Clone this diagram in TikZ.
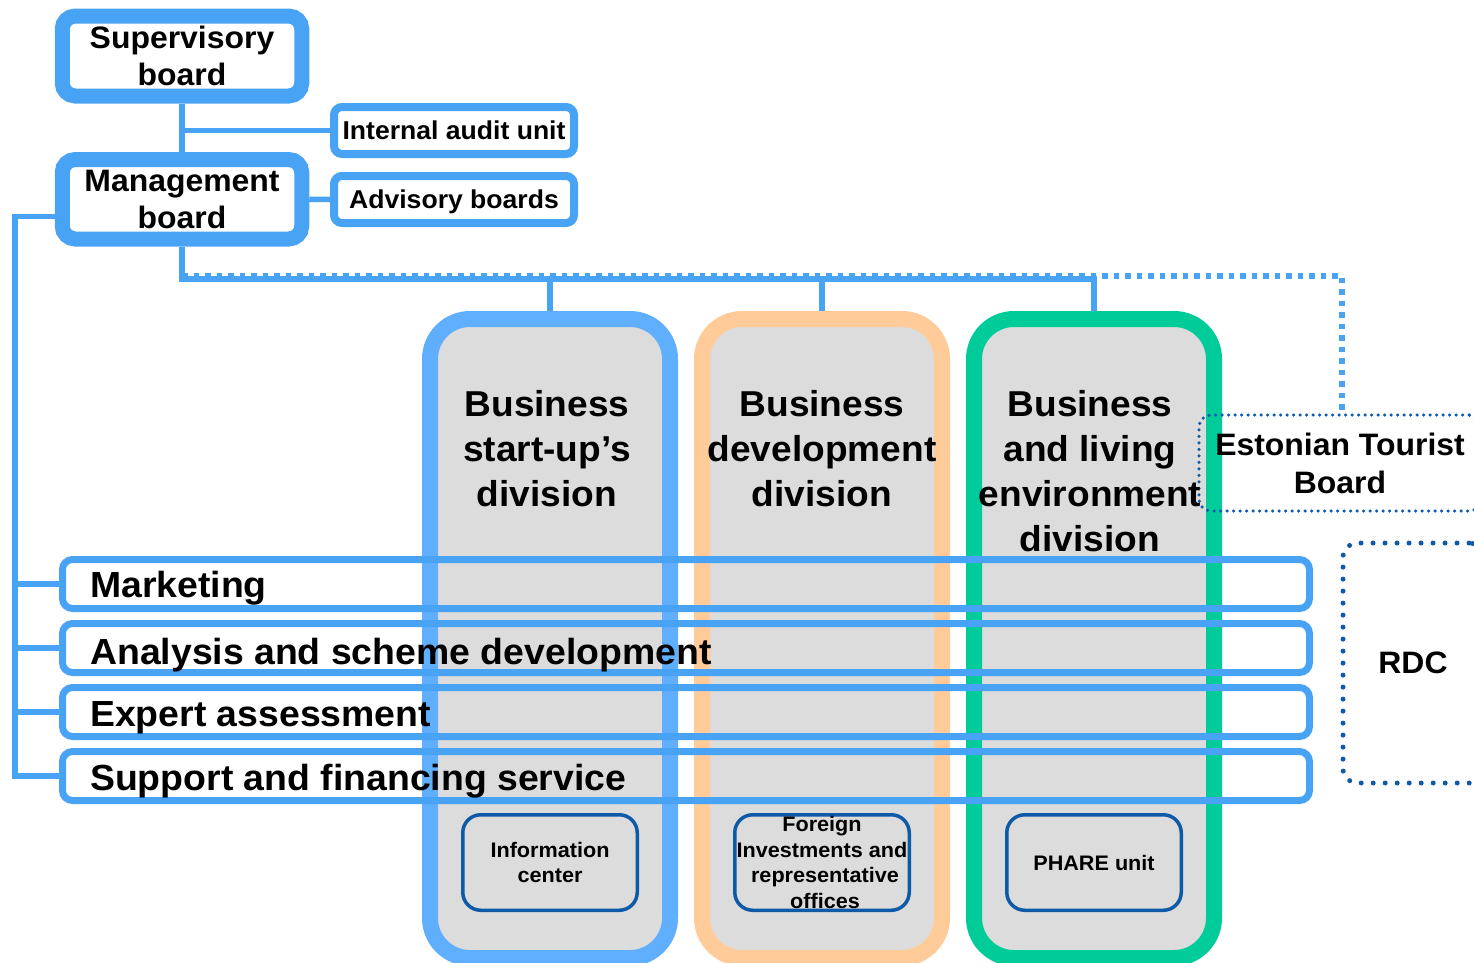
\documentclass[tikz,border=0pt]{standalone}
\usepackage{fontspec}
\setmainfont{Liberation Sans}[FakeStretch=1.03]
\usetikzlibrary{calc}
\definecolor{lblue}{RGB}{73,163,245}
\definecolor{cblue}{RGB}{96,174,254}
\definecolor{corange}{RGB}{255,204,153}
\definecolor{cgreen}{RGB}{0,204,153}
\definecolor{cgray}{RGB}{220,220,220}
\definecolor{dblue}{RGB}{14,90,168}
\pgfdeclarelayer{bg}
\pgfsetlayers{bg,main}
\begin{document}
\begin{tikzpicture}[x=1pt,y=-1pt,
  conn/.style={draw=lblue, line width=5.5pt},
  lightdots/.style={draw=lblue, line width=5.5pt, dash pattern=on 5.5pt off 6pt},
  board/.style={draw=lblue, line width=15pt, rounded corners=13pt, fill=white, inner sep=0pt,
    minimum width=239.5pt, minimum height=80pt, align=center, text depth=0pt,
    font=\bfseries\fontsize{31}{37.5}\selectfont},
  unitbox/.style={draw=lblue, line width=8pt, rounded corners=8pt, fill=white, inner sep=0pt,
    minimum width=240pt, minimum height=47pt, text depth=0pt,
    font=\bfseries\fontsize{25.8}{32}\selectfont},
  column/.style={line width=16pt, rounded corners=40pt, fill=cgray, inner sep=0pt,
    minimum width=240pt, minimum height=639pt},
  coltitle/.style={anchor=north, inner sep=0pt, align=center,
    font=\bfseries\fontsize{36}{45}\selectfont},
  band/.style={draw=lblue, line width=7pt, rounded corners=10pt, inner sep=0pt,
    minimum width=1247pt, minimum height=49pt},
  bandtext/.style={anchor=base west, inner sep=0pt, font=\bfseries\fontsize{36.3}{45}\selectfont},
  smallbox/.style={draw=dblue, line width=3.5pt, rounded corners=18pt, fill=cgray, inner sep=0pt,
    minimum width=174.5pt, minimum height=95.5pt, align=center, text depth=0pt,
    font=\bfseries\fontsize{21}{25.5}\selectfont},
  dotbox/.style={draw=dblue, line cap=round, inner sep=0pt, align=center,
    font=\bfseries\fontsize{31}{38}\selectfont}
]
\useasboundingbox (0,0) rectangle (1474,962);

% top boards
\node[board] (sb) at (182,56) {Supervisory\\board};
\node[board, minimum height=79.5pt] (mb) at (182,199.25) {Management\\board};
\node[unitbox] (iau) at (454,130.5) {Internal audit unit};
\node[unitbox] (ab) at (454,199.5) {Advisory boards};

% division columns
\node[column, draw=cblue] (c1) at (550,638.5) {};
\node[column, draw=corange] (c2) at (822,638.5) {};
\node[column, draw=cgreen] (c3) at (1094,638.5) {};

% Estonian Tourist Board and RDC
\node[dotbox, line width=3.5pt, dash pattern=on 0pt off 6.5pt, rounded corners=12pt,
  minimum width=282pt, minimum height=96pt, text depth=0pt] (etb) at (1340,463) {Estonian Tourist\\Board};
\node[dotbox, line width=5pt, dash pattern=on 0pt off 12pt, rounded corners=14pt,
  minimum width=140pt, minimum height=240pt] (rdc) at (1413,663) {RDC};

% functional bands
\node[band] (b1) at (686,584) {};
\node[band] (b2) at (686,648) {};
\node[band] (b3) at (686,712) {};
\node[band] (b4) at (686,776) {};

% small units
\node[smallbox] (ic) at (550,862.5) {Information\\center};
\node[smallbox] (fi) at (822,862.5) {Foreign\\Investments and\\\hspace*{6pt}representative\\\hspace*{6pt}offices};
\node[smallbox] (ph) at (1094,862.5) {PHARE unit};

% titles
\node[coltitle] (t1) at (547,390) {Business\\start-up’s\\division};
\node[coltitle] (t2) at (822,390) {Business\\development\\division};
\node[coltitle] (t3) at (1090,390) {Business\\and living\\environment\\division};

\node[bandtext] (bt1) at (90,597) {Marketing};
\node[bandtext] (bt2) at (90,664) {Analysis and scheme development};
\node[bandtext] (bt3) at (90,726) {Expert assessment};
\node[bandtext] (bt4) at (90,790) {Support and financing service};

% connectors
\coordinate (j) at (183,279);
\coordinate (dj) at (1342,276);
\coordinate (lx) at (15,0);
\begin{pgfonlayer}{bg}
\draw[conn] (sb.south) -- (mb.north);
\draw[conn] (sb.south |- iau.west) -- (iau.west);
\draw[conn] (mb.east) -- (ab.west);
\draw[lightdots] (mb.south |- dj) -- (dj) -- (dj |- etb.north);
\draw[conn] (mb.south) -- (mb.south |- j) -- (c3.north |- j) -- (c3.north);
\draw[conn] (c1.north |- j) -- (c1.north);
\draw[conn] (c2.north |- j) -- (c2.north);
\draw[conn] ($(mb.west)+(0,17)$) -- ($(lx |- mb.west)+(0,17)$) |- (b4.west);
\draw[conn] (lx |- b1.west) -- (b1.west);
\draw[conn] (lx |- b2.west) -- (b2.west);
\draw[conn] (lx |- b3.west) -- (b3.west);
\end{pgfonlayer}
\end{tikzpicture}
\end{document}
